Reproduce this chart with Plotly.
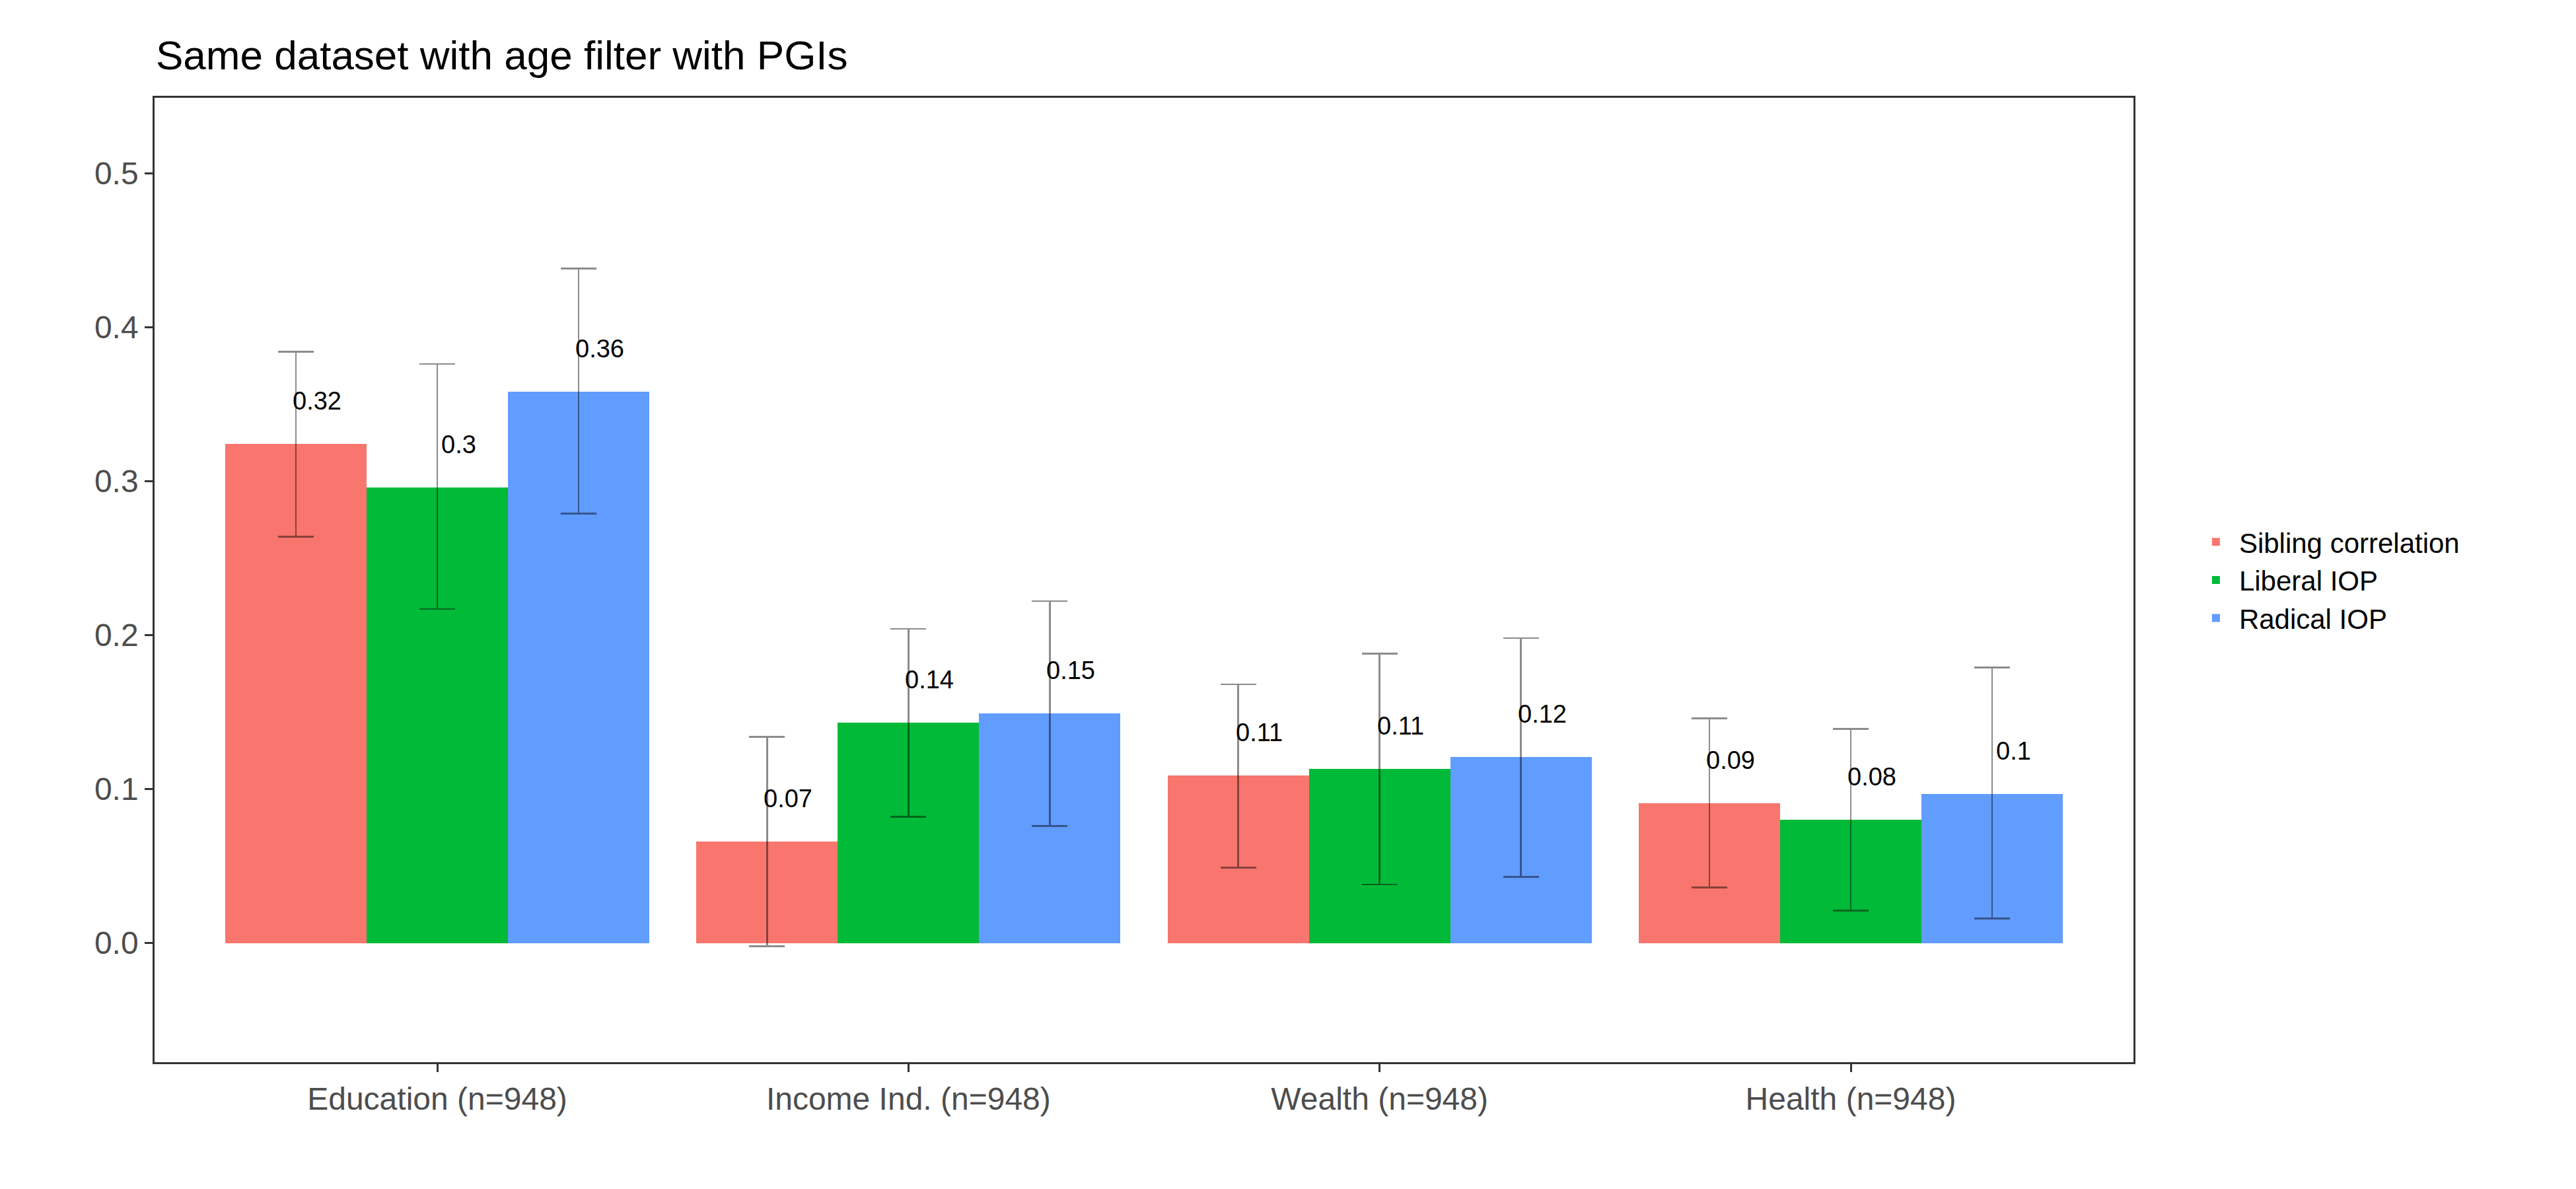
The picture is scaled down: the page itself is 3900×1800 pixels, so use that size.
import plotly.graph_objects as go

categories = ["Education (n=948)", "Income Ind. (n=948)", "Wealth (n=948)", "Health (n=948)"]
series = ["Sibling correlation", "Liberal IOP", "Radical IOP"]
colors = ["#F8766D", "#00BA38", "#619CFF"]
values = [[0.324, 0.066, 0.109, 0.091],
          [0.296, 0.143, 0.113, 0.080],
          [0.358, 0.149, 0.121, 0.097]]
lower = [[0.264, -0.002, 0.049, 0.036],
         [0.217, 0.082, 0.038, 0.021],
         [0.279, 0.076, 0.043, 0.016]]
upper = [[0.384, 0.134, 0.168, 0.146],
         [0.376, 0.204, 0.188, 0.139],
         [0.438, 0.222, 0.198, 0.179]]
labels = [["0.32", "0.07", "0.11", "0.09"],
          ["0.3", "0.14", "0.11", "0.08"],
          ["0.36", "0.15", "0.12", "0.1"]]

offsets = [-0.3, 0.0, 0.3]
fig = go.Figure()
for i, s in enumerate(series):
    xs = [j + offsets[i] for j in range(len(categories))]
    fig.add_trace(go.Bar(
        x=xs, y=values[i], width=0.3, name=s, marker_color=colors[i], marker_line_width=0,
        error_y=dict(type="data", symmetric=False,
                     array=[u - v for u, v in zip(upper[i], values[i])],
                     arrayminus=[v - l for v, l in zip(values[i], lower[i])],
                     color="rgba(0,0,0,0.45)", thickness=2.5, width=27)))
    for x, v, t in zip(xs, values[i], labels[i]):
        fig.add_annotation(x=x, y=v, text=t, showarrow=False, xshift=32, yshift=65,
                           font=dict(size=38, color="black"))

fig.update_layout(
    width=3900, height=1800, plot_bgcolor="white", paper_bgcolor="white",
    font=dict(family="Liberation Sans, Arial, sans-serif"),
    title=dict(text="Same dataset with age filter with PGIs", x=228/3900, xanchor="left",
               y=1-75/1800, yanchor="middle", font=dict(size=62, color="black")),
    margin=dict(l=226, r=678, t=140, b=200),
    barmode="overlay", bargap=0,
    legend=dict(x=1.03, y=0.5, yanchor="middle", font=dict(size=42, color="black"),
                itemsizing="constant", tracegroupgap=0, itemwidth=60),
    showlegend=True,
)
fig.update_xaxes(range=[-0.6, 3.6], tickvals=list(range(4)), ticktext=categories,
                 tickfont=dict(size=48, color="#4D4D4D"), ticks="outside", ticklen=12,
                 tickcolor="#333333", tickwidth=2.5, showgrid=False, zeroline=False,
                 showline=True, mirror=True, linecolor="#333333", linewidth=2.5)
fig.update_yaxes(range=[-0.0774, 0.549], tickvals=[0, 0.1, 0.2, 0.3, 0.4, 0.5],
                 ticktext=["0.0", "0.1", "0.2", "0.3", "0.4", "0.5"],
                 tickfont=dict(size=48, color="#4D4D4D"), ticks="outside", ticklen=12,
                 tickcolor="#333333", tickwidth=2.5, showgrid=False, zeroline=False,
                 showline=True, mirror=True, linecolor="#333333", linewidth=2.5)
fig.write_html("out.html")
